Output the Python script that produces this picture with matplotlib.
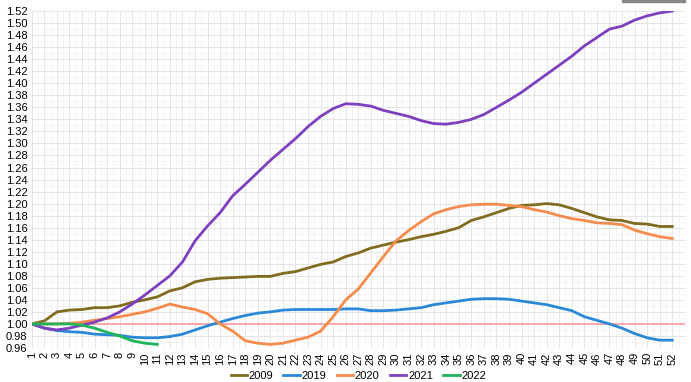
import matplotlib.pyplot as plt
from matplotlib.patches import Rectangle

plt.rcParams['font.family'] = ['Liberation Sans', 'DejaVu Sans']

weeks = list(range(1, 53))

y2009 = [1.000, 1.005, 1.020, 1.023, 1.024, 1.027, 1.027, 1.030, 1.036, 1.040,
         1.045, 1.055, 1.060, 1.070, 1.074, 1.076, 1.077, 1.078, 1.079, 1.079,
         1.084, 1.087, 1.093, 1.099, 1.103, 1.112, 1.118, 1.126, 1.131, 1.136,
         1.140, 1.145, 1.149, 1.154, 1.160, 1.172, 1.178, 1.185, 1.192, 1.197,
         1.198, 1.200, 1.198, 1.192, 1.185, 1.178, 1.173, 1.172, 1.167, 1.166,
         1.162, 1.162]
y2019 = [1.000, 0.993, 0.989, 0.987, 0.986, 0.983, 0.982, 0.981, 0.978, 0.977,
         0.977, 0.979, 0.983, 0.990, 0.997, 1.003, 1.009, 1.014, 1.018, 1.020,
         1.023, 1.024, 1.024, 1.024, 1.024, 1.025, 1.025, 1.022, 1.022, 1.023,
         1.025, 1.027, 1.032, 1.035, 1.038, 1.041, 1.042, 1.042, 1.041, 1.038,
         1.035, 1.032, 1.027, 1.022, 1.012, 1.006, 1.000, 0.993, 0.984, 0.977,
         0.973, 0.973]
y2020 = [1.000, 1.000, 1.000, 1.001, 1.003, 1.006, 1.009, 1.012, 1.016, 1.020,
         1.026, 1.033, 1.028, 1.024, 1.017, 1.000, 0.988, 0.972, 0.968, 0.966,
         0.968, 0.973, 0.978, 0.988, 1.012, 1.040, 1.058, 1.085, 1.112, 1.138,
         1.155, 1.170, 1.183, 1.190, 1.195, 1.198, 1.199, 1.199, 1.197, 1.195,
         1.190, 1.186, 1.180, 1.175, 1.172, 1.168, 1.167, 1.165, 1.156, 1.150,
         1.145, 1.142]
y2021 = [1.000, 0.993, 0.990, 0.993, 0.998, 1.003, 1.010, 1.020, 1.033, 1.048,
         1.064, 1.080, 1.103, 1.138, 1.163, 1.185, 1.213, 1.232, 1.252, 1.272,
         1.290, 1.308, 1.328, 1.345, 1.358, 1.366, 1.365, 1.362, 1.355, 1.350,
         1.345, 1.338, 1.333, 1.332, 1.335, 1.340, 1.348, 1.360, 1.372, 1.385,
         1.400, 1.415, 1.430, 1.445, 1.462, 1.476, 1.490, 1.495, 1.505, 1.512,
         1.517, 1.520]
y2022 = [1.000, 1.000, 1.000, 1.000, 0.998, 0.993, 0.986, 0.980, 0.972, 0.968, 0.966]

series = [('2009', y2009, '#806b1f'), ('2019', y2019, '#2a88d8'),
          ('2020', y2020, '#f58b4c'), ('2021', y2021, '#7f3fbf'),
          ('2022', y2022, '#1db45a')]

fig = plt.figure(figsize=(6.91, 3.82), dpi=100)
ax = fig.add_axes([0.046, 0.089, 0.945, 0.882])

for label, vals, col in series:
    ax.plot(weeks[:len(vals)], vals, color=col, lw=2, label=label, zorder=3)

# linia de referencia a 1.00
ax.axhline(1.0, color='#ff9a9a', lw=1.2, zorder=2)

ax.set_xlim(1, 53)
ax.set_ylim(0.96, 1.52)
ax.set_xticks(weeks)
ax.set_xticklabels([str(w) for w in weeks], rotation=90, fontsize=8)
yt = [0.96 + 0.02 * i for i in range(29)]
ax.set_yticks(yt)
ax.set_yticklabels([f'{v:.2f}' for v in yt], fontsize=8)
ax.set_xticks([w + 0.5 for w in weeks], minor=True)
ax.set_yticks([v + 0.01 for v in yt[:-1]], minor=True)
ax.grid(True, which='major', color='#e4e4e4', lw=0.7, zorder=0)
ax.grid(True, which='minor', color='#f2f2f2', lw=0.6, zorder=0)
ax.tick_params(which='both', length=0, pad=3)
for s in ax.spines.values():
    s.set_visible(False)

ax.legend(loc='center', bbox_to_anchor=(0.5, -0.083), ncol=5, frameon=False,
          fontsize=8, handlelength=1.5, handletextpad=0.15, columnspacing=0.9,
          borderpad=0.1)

fig.patches.append(Rectangle((0.9, 0.995), 0.092, 0.005, transform=fig.transFigure,
                             color='#888888', zorder=5))

fig.savefig('out.png', dpi=100)
